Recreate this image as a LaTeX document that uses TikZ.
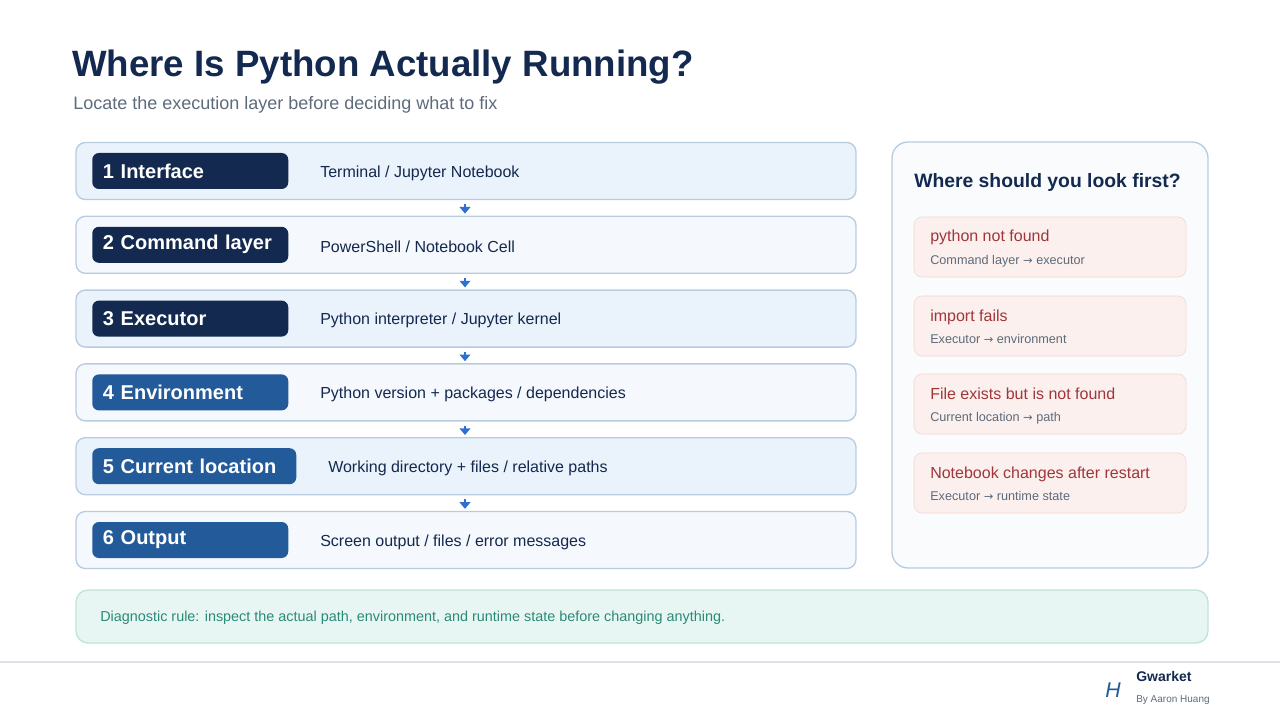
\documentclass[tikz,border=0pt]{standalone}
\usepackage{fontspec}
\setmainfont{Liberation Sans}
\newfontfamily\arrowfont{DejaVu Sans}
\usetikzlibrary{positioning,arrows.meta}
\definecolor{navy}{HTML}{13294F}
\definecolor{midblue}{HTML}{235A9A}
\definecolor{rowA}{HTML}{EAF2FB}
\definecolor{rowB}{HTML}{F5F8FC}
\definecolor{rowline}{HTML}{B8CCE0}
\definecolor{cardfill}{HTML}{FBF0EE}
\definecolor{cardline}{HTML}{F0D5D0}
\definecolor{cardred}{HTML}{A0363A}
\definecolor{subgray}{HTML}{5E6B7A}
\definecolor{arrblue}{HTML}{2F6FD0}
\newcommand{\tto}{{\arrowfont\scalebox{0.9}{→}}}
\tikzset{
  row/.style={draw=rowline,line width=1pt,rounded corners=7pt,minimum height=57*0.75pt,minimum width=780*0.75pt,inner sep=0pt},
  badge/.style={rounded corners=5pt,minimum height=36*0.75pt,text width=#1*0.75pt-16pt,inner xsep=8pt,inner ysep=0pt,
    text=white,font=\bfseries\fontsize{15}{16}\selectfont,align=left},
  desc/.style={anchor=west,text=navy,font=\fontsize{12}{14}\selectfont,inner sep=0pt},
  flow/.style={-{Triangle[width=8pt,length=5pt]},arrblue,line width=2.2pt,shorten <=3pt,shorten >=1.5pt},
  card/.style={draw=cardline,fill=cardfill,rounded corners=6pt,minimum width=272*0.75pt,minimum height=60*0.75pt,inner sep=0pt}
}
\begin{document}
\begin{tikzpicture}[x=0.75pt,y=-0.75pt]
\useasboundingbox (0,0) rectangle (1280,720);
% title
\node[anchor=base west,inner sep=0pt,text=navy,font=\bfseries\fontsize{27.5}{30}\selectfont] (title) at (72,77) {Where Is Python Actually Running?};
\node[anchor=base west,inner sep=0pt,text=subgray,font=\fontsize{13.5}{16}\selectfont] (subtitle) at (73,110) {Locate the execution layer before deciding what to fix};
% layers
\foreach \i/\lab/\txt/\bw/\bc/\rc/\dx in {
  1/1 Interface/{Terminal / Jupyter Notebook}/196/navy/rowA/0,
  2/2 Command layer/{PowerShell / Notebook Cell}/196/navy/rowB/0,
  3/3 Executor/{Python interpreter / Jupyter kernel}/196/navy/rowA/0,
  4/4 Environment/{Python version + packages / dependencies}/196/midblue/rowB/0,
  5/5 Current location/{Working directory + files / relative paths}/204/midblue/rowA/8,
  6/6 Output/{Screen output / files / error messages}/196/midblue/rowB/0}{
  \pgfmathsetmacro{\yy}{171+73.8*(\i-1)}
  \node[row,fill=\rc] (r\i) at (466,\yy) {};
  \node[badge=\bw,fill=\bc,anchor=west] (b\i) at (92,\yy) {\lab};
  \node[desc] (d\i) at (320+\dx,\yy+2) {\txt};
}
\coordinate (axis) at (465,0);
\foreach \i [evaluate=\i as \j using int(\i+1)] in {1,...,5}
  \draw[flow] (r\i.south -| axis) -- (r\j.north -| axis);
% right panel
\node[draw=rowline,fill=rowB!60!white,line width=1pt,rounded corners=12pt,minimum width=316*0.75pt,minimum height=426*0.75pt,inner sep=0pt] (panel) at (1050,355) {};
\node[anchor=base west,inner sep=0pt,text=navy,font=\bfseries\fontsize{14.5}{16}\selectfont] (ptitle) at (914,188) {Where should you look first?};
\foreach \i/\h/\s/\y in {
  1/python not found/Command layer \tto{} executor/247,
  2/import fails/Executor \tto{} environment/326,
  3/File exists but is not found/Current location \tto{} path/404,
  4/Notebook changes after restart/Executor \tto{} runtime state/483}{
  \node[card] (c\i) at (1050,\y) {};
  \node[anchor=base west,inner sep=0pt,text=cardred,font=\fontsize{12}{14}\selectfont] (ch\i) at (930,\y-5) {\h};
  \node[anchor=base west,inner sep=0pt,text=subgray,font=\fontsize{9.5}{11}\selectfont] (cs\i) at (930,\y+17) {\s};
}
% rule
\node[draw={rgb,255:red,191;green,227;blue,218},fill={rgb,255:red,232;green,246;blue,243},line width=1pt,rounded corners=9pt,minimum width=1132*0.75pt,minimum height=53*0.75pt,inner sep=0pt] (rule) at (642,616.5) {};
\node[anchor=west,inner sep=0pt,text={rgb,255:red,42;green,138;blue,120},font=\fontsize{10.8}{13}\selectfont] (ruletxt) at (100,618) {Diagnostic rule: inspect the actual path, environment, and runtime state before changing anything.};
% footer
\draw[draw={rgb,255:red,222;green,226;blue,232},line width=1pt] (0,662) -- (1280,662);
\node[inner sep=0pt,text=midblue,font=\itshape\fontsize{16}{18}\selectfont] (logo) at (1113,690) {H};
\node[anchor=base west,inner sep=0pt,text=navy,font=\bfseries\fontsize{10.5}{12}\selectfont] (brand) at (1136,681) {Gwarket};
\node[anchor=base west,inner sep=0pt,text=subgray,font=\fontsize{7.5}{9}\selectfont] (author) at (1136,702) {By Aaron Huang};
\end{tikzpicture}
\end{document}
